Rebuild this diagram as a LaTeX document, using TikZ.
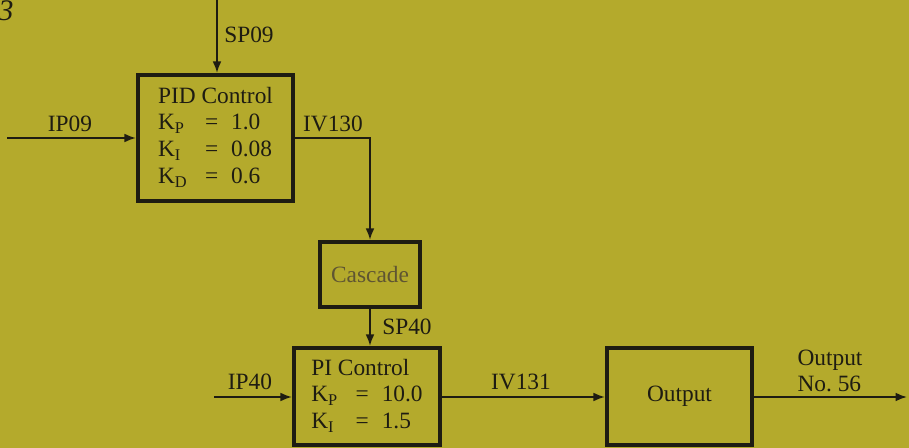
\documentclass[tikz,border=0pt]{standalone}
\usepackage{fontspec}
\setmainfont{Liberation Serif}
\usetikzlibrary{arrows.meta}
\definecolor{bgcol}{RGB}{180,170,44}
\definecolor{ink}{RGB}{30,28,18}
\definecolor{casctext}{RGB}{95,85,50}
\begin{document}
\begin{tikzpicture}[x=0.02cm,y=-0.02cm,
  every node/.style={font=\fontsize{13.3}{15.2}\selectfont,text=ink},
  blockbox/.style={draw=ink,line width=2.4pt,inner sep=0pt},
  conn/.style={draw=ink,line width=1pt},
  arr/.style={conn,-{Latex[length=6.5pt,width=5pt]}},
  lbl/.style={inner sep=1pt}]
\fill[bgcol] (0,0) rectangle (909,448);
\useasboundingbox (0,0) rectangle (909,448);
\node[text=ink,font=\itshape\fontsize{17}{17}\selectfont,inner sep=0pt] (fig) at (6,11) {3};
% blocks
\node[blockbox,minimum width=155*0.02cm,minimum height=126*0.02cm] (pid) at (215.5,138) {%
  \begin{tabular}{@{}l@{\hspace{0.75em}}c@{\hspace{0.55em}}l@{}}
  \multicolumn{3}{@{}c@{}}{PID Control}\\
  K\textsubscript{P} & = & 1.0\\
  K\textsubscript{I} & = & 0.08\\
  K\textsubscript{D} & = & 0.6
  \end{tabular}};
\node[blockbox,minimum width=100*0.02cm,minimum height=65*0.02cm,text=casctext] (casc) at (370,274.5) {Cascade};
\node[blockbox,minimum width=146*0.02cm,minimum height=97*0.02cm] (pi) at (367,396.5) {%
  \begin{tabular}{@{}l@{\hspace{0.75em}}c@{\hspace{0.55em}}l@{}}
  \multicolumn{3}{@{}l@{}}{PI Control}\\
  K\textsubscript{P} & = & 10.0\\
  K\textsubscript{I} & = & 1.5
  \end{tabular}};
\node[blockbox,minimum width=145*0.02cm,minimum height=97*0.02cm] (out) at (679.5,396.5) {Output};
% free ends
\coordinate (sp09) at (217,0);
\coordinate (ip09) at (7,138);
\coordinate (ip40) at (214,397);
\coordinate (o56) at (907,397);
% connectors
\draw[arr] (sp09) -- (sp09 |- pid.north);
\draw[arr] (ip09) -- (pid.west);
\draw[arr] (pid.east) -| (casc.north);
\draw[arr] (casc.south) -- (casc.south |- pi.north);
\draw[arr] (ip40) -- (ip40 -| pi.west);
\draw[arr] (pi.east |- ip40) -- (out.west |- ip40);
\draw[arr] (out.east |- ip40) -- (o56);
% labels
\node[lbl] (lsp09) at (249,35) {SP09};
\node[lbl] (lip09) at (70,124) {IP09};
\node[lbl] (liv130) at (333,124) {IV130};
\node[lbl] (lsp40) at (407,327) {SP40};
\node[lbl] (lip40) at (250,382) {IP40};
\node[lbl] (liv131) at (521,382) {IV131};
\node[lbl,align=left] (lo56) at (830,371) {Output\\No.~56};
\end{tikzpicture}
\end{document}
